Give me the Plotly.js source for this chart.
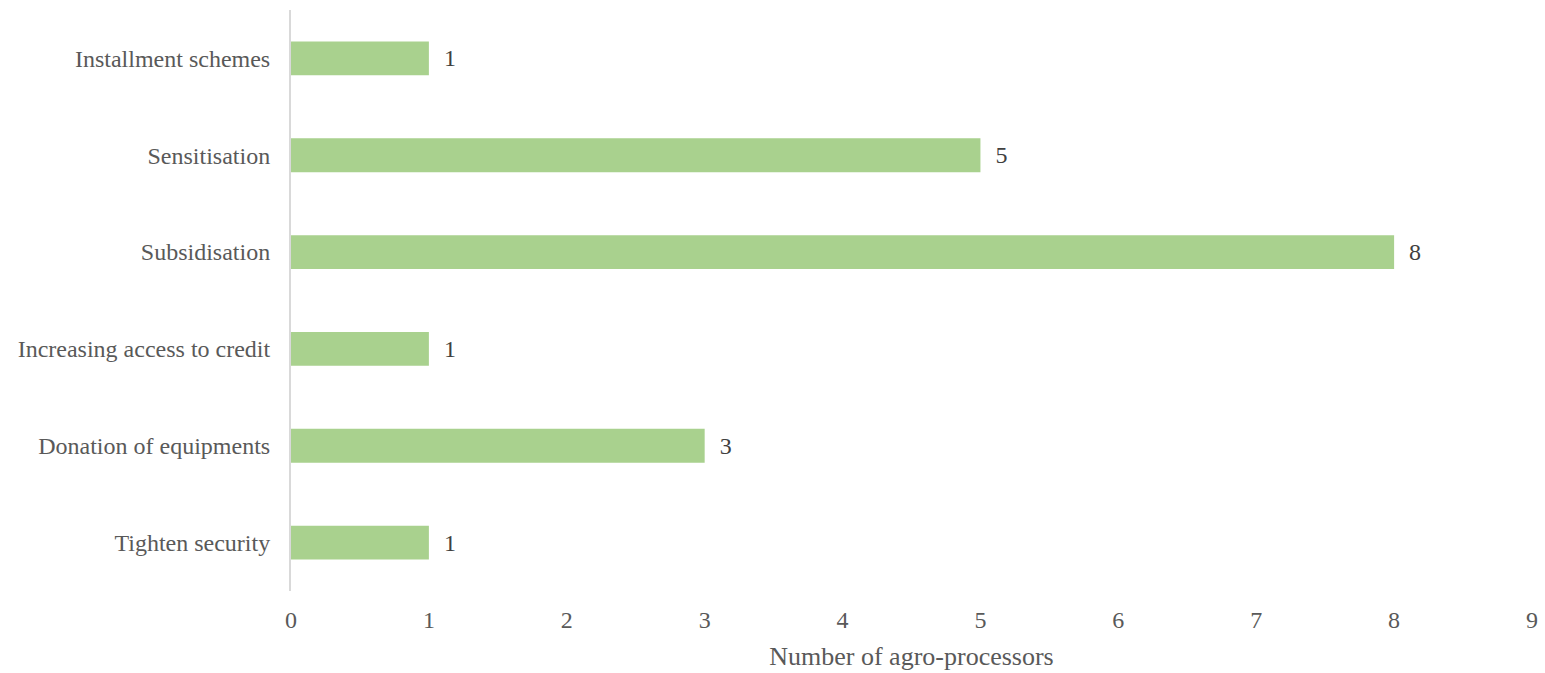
<!DOCTYPE html>
<html>
<head>
<meta charset="utf-8">
<script src="https://cdn.plot.ly/plotly-3.0.1.min.js"></script>
<style>html,body{margin:0;padding:0;background:#fff;}#chart{width:1545px;height:673px;}</style>
</head>
<body>
<div id="chart"></div>
<script>
const categories = ["Tighten security", "Donation of equipments", "Increasing access to credit", "Subsidisation", "Sensitisation", "Installment schemes"];
const values = [1, 3, 1, 8, 5, 1];
const xTicks = [0, 1, 2, 3, 4, 5, 6, 7, 8, 9];

const font = "'Liberation Serif', 'Times New Roman', serif";
Plotly.newPlot("chart", [{
  type: "bar",
  orientation: "h",
  y: categories,
  x: values,
  marker: {color: "#a9d18e"},
  text: values.map(v => "\u00a0\u00a0" + v),
  textposition: "outside",
  cliponaxis: false,
  textfont: {family: font, size: 24, color: "#404040"},
  hoverinfo: "none"
}], {
  width: 1545, height: 673,
  margin: {l: 291, r: 13, t: 10, b: 82},
  paper_bgcolor: "#fff", plot_bgcolor: "#fff",
  bargap: 0.65,
  showlegend: false,
  font: {family: font, size: 24, color: "#595959"},
  xaxis: {
    range: [0, 9], tickvals: xTicks, showgrid: false, zeroline: false,
    showline: false, ticks: "", ticklen: 0, ticklabelstandoff: 12,
    tickfont: {family: font, size: 24, color: "#595959"},
    title: {text: "Number of agro-processors", font: {family: font, size: 26, color: "#595959"}, standoff: 14}
  },
  yaxis: {
    showgrid: false, zeroline: false, showline: true, linecolor: "#d9d9d9", linewidth: 2,
    ticks: "", ticklabelstandoff: 14,
    tickfont: {family: font, size: 24, color: "#595959"}
  }
}, {displayModeBar: false, staticPlot: true});
</script>
</body>
</html>
